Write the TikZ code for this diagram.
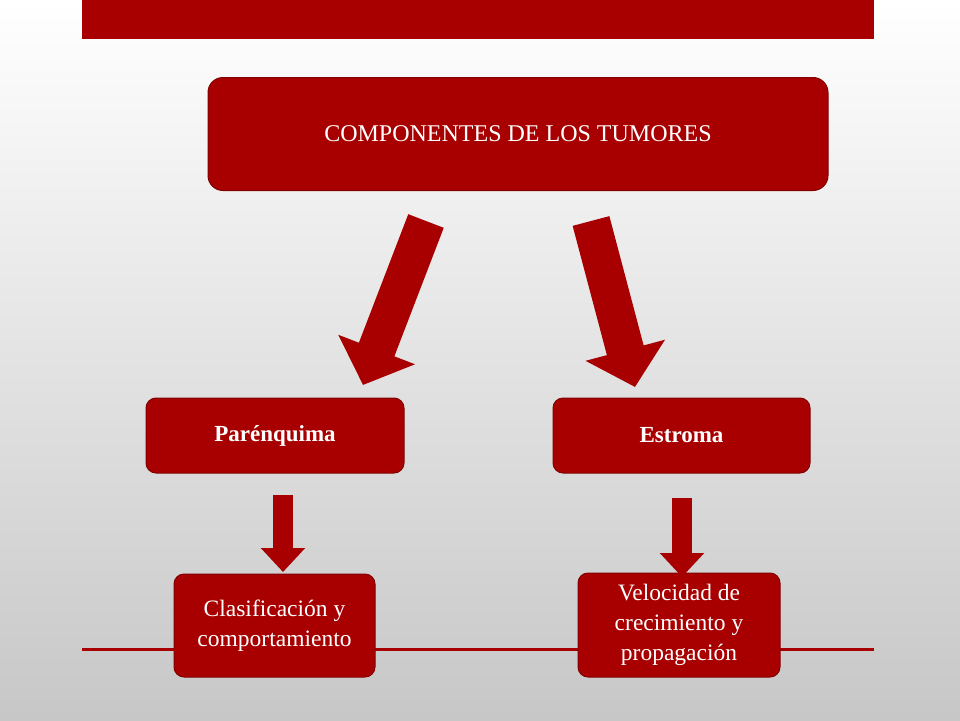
\documentclass[tikz,border=0pt]{standalone}
\usepackage{fontspec}
\setmainfont{Liberation Serif}
\usetikzlibrary{arrows.meta}
\definecolor{tred}{RGB}{168,0,0}
\definecolor{tdark}{RGB}{130,0,0}
\tikzset{
  box/.style={draw=tdark, line width=1pt, fill=tred, rounded corners=10pt, text=white, align=center, inner sep=0pt, font=\fontsize{23.5}{30}\selectfont},
  boldbox/.style={box, font=\bfseries\fontsize{23}{28}\selectfont},
  bigarrow/.style={draw=tred, line width=38pt, -{Triangle[width=80pt,length=38pt]}},
  smallarrow/.style={draw=tred, line width=20pt, -{Triangle[width=43pt,length=24pt]}},
}
\begin{document}
\begin{tikzpicture}[x=1pt,y=-1pt]
\useasboundingbox (0,0) rectangle (960,720);
\shade[top color=white, bottom color=black!22] (0,0) rectangle (960,720);
\fill[tred] (82,0) rectangle (874,39);
\draw[tred, line width=3pt] (82,649) -- (874,649);
\node[box, rounded corners=15pt, minimum width=620pt, minimum height=113pt, font=\fontsize{24}{29}\selectfont] (top) at (518,134) {COMPONENTES DE LOS TUMORES};
\node[boldbox, minimum width=258pt, minimum height=75pt] (par) at (275,435.5) {Parénquima};
\node[boldbox, minimum width=257pt, minimum height=75pt] (est) at (681.5,435.5) {Estroma};
\node[box, minimum width=201pt, minimum height=103pt] (clas) at (274.5,625.5) {Clasificación y\\comportamiento};
\node[box, minimum width=202pt, minimum height=104pt] (vel) at (679,625) {Velocidad de\\crecimiento y\\propagación};
\coordinate (a1) at (426,221); \coordinate (b1) at (363,385);
\coordinate (a2) at (591,221); \coordinate (b2) at (635,387);
\coordinate (a3) at (283,495); \coordinate (b3) at (283,572);
\coordinate (a4) at (682,498); \coordinate (b4) at (682,577);
\draw[bigarrow] (a1) -- (b1);
\draw[bigarrow] (a2) -- (b2);
\draw[smallarrow] (a3) -- (b3);
\draw[smallarrow] (a4) -- (b4);
\end{tikzpicture}
\end{document}
